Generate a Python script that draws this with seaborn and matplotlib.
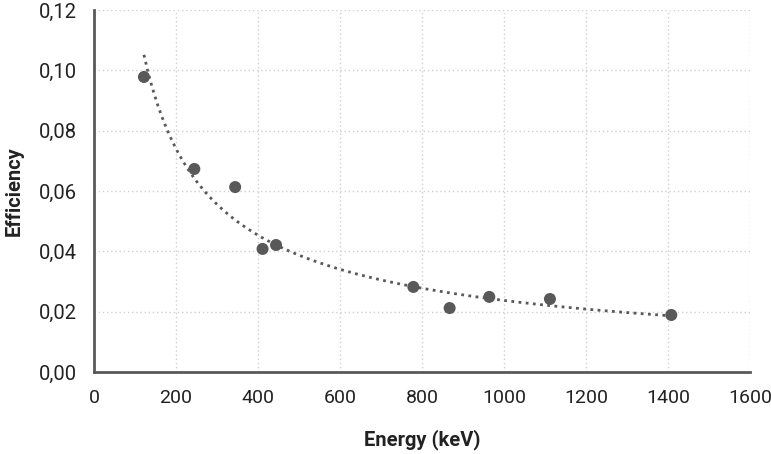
import numpy as np
import pandas as pd
import matplotlib
matplotlib.use("Agg")
import matplotlib.pyplot as plt
import seaborn as sns
from matplotlib.ticker import FuncFormatter

energy = [121.8, 244.7, 344.3, 411.1, 444.0, 778.9, 867.4, 964.1, 1112.1, 1408.0]
efficiency = [0.0978, 0.0673, 0.0613, 0.0408, 0.0421, 0.0282, 0.0212, 0.0249, 0.0242, 0.0189]
x_ticks = [0, 200, 400, 600, 800, 1000, 1200, 1400, 1600]
y_ticks = [0.00, 0.02, 0.04, 0.06, 0.08, 0.10, 0.12]

sns.set_theme(style="white")
plt.rcParams['font.family'] = ['Roboto', 'DejaVu Sans']

df = pd.DataFrame({"Energy": energy, "Efficiency": efficiency})

# power-law trendline fitted from data
b, ln_a = np.polyfit(np.log(df["Energy"]), np.log(df["Efficiency"]), 1)
xs = np.linspace(min(energy), max(energy), 300)
trend = pd.DataFrame({"Energy": xs, "Efficiency": np.exp(ln_a) * xs ** b})

fig = plt.figure(figsize=(7.71, 4.54), dpi=100)
ax = fig.add_axes([94/771, 1 - 372/454, (750-94)/771, (372-10)/454])

dark = "#595959"
sns.lineplot(data=trend, x="Energy", y="Efficiency", ax=ax, color=dark,
             linestyle=(0, (1, 1.6)), linewidth=2.0, zorder=2)
sns.scatterplot(data=df, x="Energy", y="Efficiency", ax=ax, color=dark,
                s=75, edgecolor="none", zorder=3)

ax.set_xlim(0, 1600)
ax.set_ylim(0, 0.12)
ax.set_xticks(x_ticks)
ax.set_yticks(y_ticks)
ax.yaxis.set_major_formatter(FuncFormatter(lambda v, p: f"{v:.2f}".replace(".", ",")))
ax.xaxis.set_major_formatter(FuncFormatter(lambda v, p: f"{int(v)}"))
ax.grid(True, color="#d0d0d0", linestyle=(0, (1, 2)), linewidth=1.0)
ax.set_axisbelow(True)

for s in ["top", "right"]:
    ax.spines[s].set_visible(False)
for s in ["left", "bottom"]:
    ax.spines[s].set_color(dark)
    ax.spines[s].set_linewidth(2.0)

ax.tick_params(axis="y", length=0, labelsize=14.5, colors="#222222", pad=12)
ax.tick_params(axis="x", length=0, labelsize=14, colors="#222222", pad=12)
ax.set_xlabel("Energy (keV)", fontsize=14.5, fontweight="bold", color="#222222", labelpad=16)
ax.set_ylabel("Efficiency", fontsize=14.5, fontweight="bold", color="#222222", labelpad=11)

fig.savefig("out.png", dpi=100)
